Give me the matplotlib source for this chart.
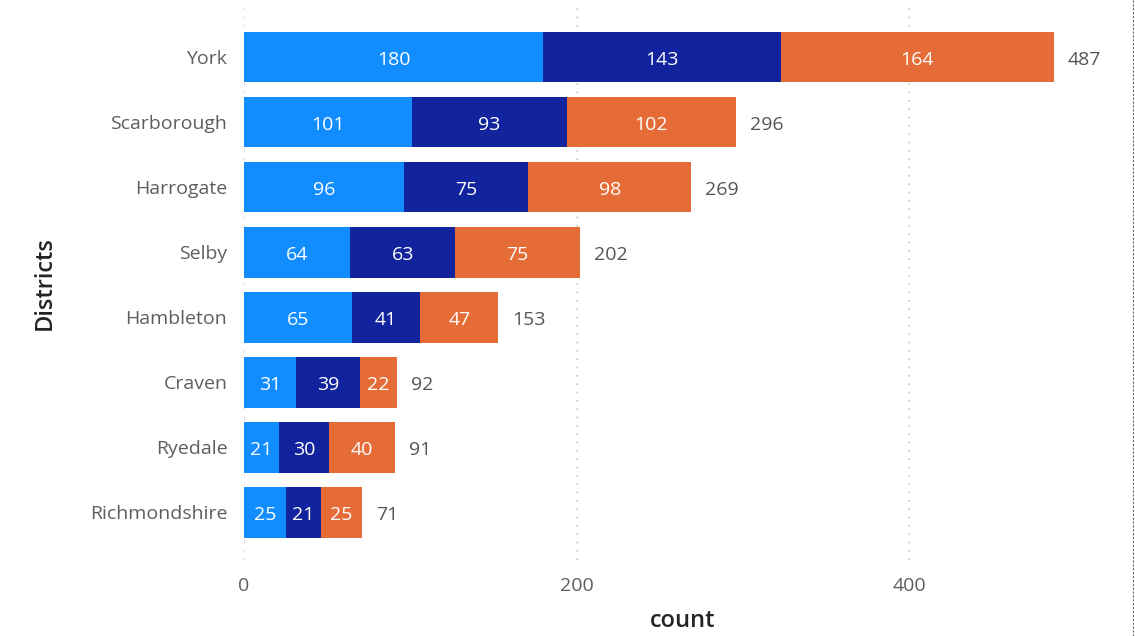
import numpy as np
import matplotlib.pyplot as plt
from matplotlib.lines import Line2D

districts = ["York", "Scarborough", "Harrogate", "Selby", "Hambleton", "Craven", "Ryedale", "Richmondshire"]
part_a = [180, 101, 96, 64, 65, 31, 21, 25]
part_b = [143, 93, 75, 63, 41, 39, 30, 21]
part_c = [164, 102, 98, 75, 47, 22, 40, 25]
colors = ["#118DFF", "#12239E", "#E66C37"]

plt.rcParams['font.family'] = ['Open Sans', 'DejaVu Sans']

fig = plt.figure(figsize=(11.35, 6.36), dpi=100)
ax = fig.add_axes([0.215, 0.119, 0.772, 0.873])

y = np.arange(len(districts))
left = np.zeros(len(districts))
for vals, c in zip([part_a, part_b, part_c], colors):
    vals = np.array(vals)
    ax.barh(y, vals, left=left, height=0.78, color=c)
    for yi, l, v in zip(y, left, vals):
        ax.text(l + v / 2, yi + 0.04, str(v), ha='center', va='center', color='white', fontsize=14)
    left = left + vals

for yi, t in zip(y, left):
    ax.annotate(str(int(t)), (t, yi + 0.04), xytext=(10, 0), textcoords='offset points',
                ha='left', va='center', color='#555555', fontsize=14)

ax.set_xlim(0, 527)
ax.set_ylim(7.74, -0.8)
ax.set_yticks(y)
ax.set_yticklabels(districts)
ax.set_xticks([0, 200, 400])
ax.tick_params(length=0, labelsize=14, colors='#605E5C', pad=12)
ax.tick_params(axis='x', pad=12)
for s in ax.spines.values():
    s.set_visible(False)
ax.grid(axis='x', color='#C8C6C4', linestyle=(0, (1, 4)), linewidth=1.2)
ax.set_axisbelow(True)
ax.set_xlabel('count', fontsize=17, color='#252423', labelpad=10, fontweight='semibold')
ax.set_ylabel('Districts', fontsize=17, color='#252423', labelpad=24, fontweight='semibold')

fig.add_artist(Line2D([0.998, 0.998], [0, 1], transform=fig.transFigure,
                      color='#666666', linestyle=(0, (2, 1.5)), linewidth=0.8))

fig.savefig('out.png', dpi=100)
